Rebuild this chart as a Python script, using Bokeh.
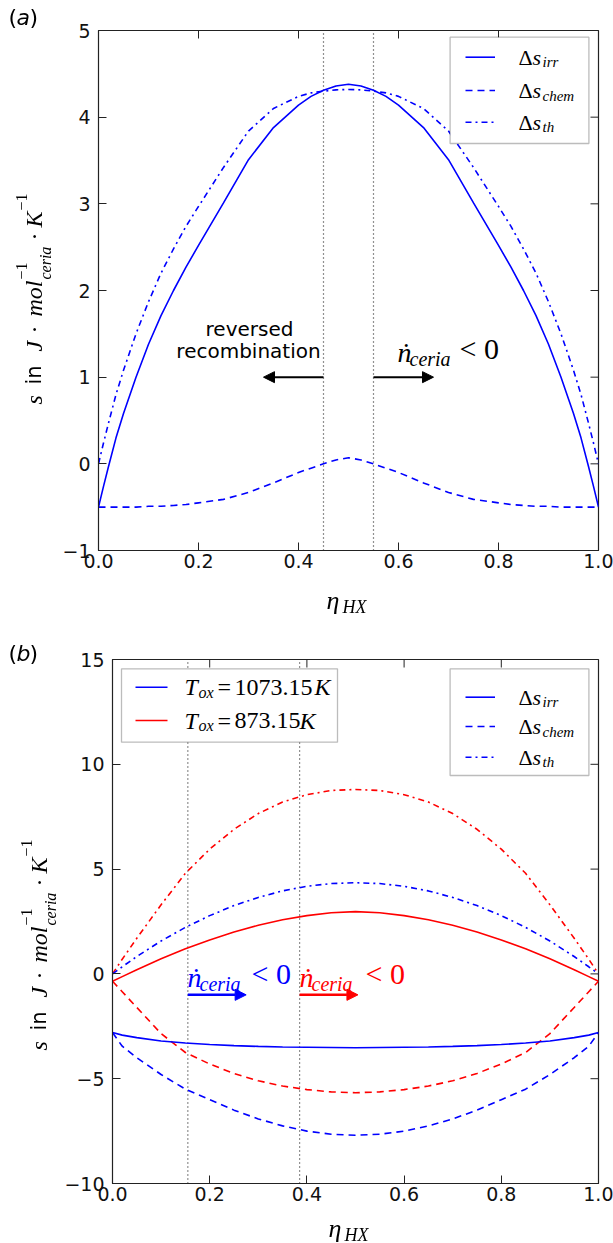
from math import pi
from bokeh.plotting import figure
from bokeh.models import Range1d, FixedTicker, Label, Arrow, NormalHead, BoxAnnotation
from bokeh.embed import file_html
from bokeh.resources import INLINE

# ---------------- data: panel (a) ----------------
x_a = [0, .01, .02, .035, .05, .075, .1, .125, .15, .175, .2, .25, .3, .35, .4, .425, .45, .475, .5,
       .525, .55, .575, .6, .65, .7, .75, .8, .825, .85, .875, .9, .925, .95, .965, .98, .99, 1.0]
irr_a = [-0.5, -0.26, -0.03, 0.3, 0.58, 1.0, 1.38, 1.71, 2.0, 2.27, 2.52, 3.01, 3.51, 3.88, 4.14, 4.24, 4.31, 4.36, 4.38,
         4.36, 4.31, 4.24, 4.14, 3.88, 3.51, 3.01, 2.52, 2.27, 2.0, 1.71, 1.38, 1.0, 0.58, 0.3, -0.03, -0.26, -0.5]
chem_a = [-0.5, -0.5, -0.5, -0.5, -0.5, -0.5, -0.49, -0.49, -0.48, -0.47, -0.45, -0.41, -0.33, -0.22, -0.1, -0.05, 0.0, 0.045, 0.07,
          0.045, 0.0, -0.05, -0.1, -0.22, -0.33, -0.41, -0.45, -0.47, -0.48, -0.49, -0.49, -0.5, -0.5, -0.5, -0.5, -0.5, -0.5]
th_a = [0.0, 0.24, 0.47, 0.8, 1.08, 1.5, 1.87, 2.2, 2.48, 2.74, 2.97, 3.42, 3.84, 4.1, 4.24, 4.28, 4.3, 4.315, 4.32,
        4.315, 4.3, 4.28, 4.24, 4.1, 3.84, 3.42, 2.97, 2.74, 2.48, 2.2, 1.87, 1.5, 1.08, 0.8, 0.47, 0.24, 0.0]
vlines_a = [0.45, 0.55]

# ---------------- data: panel (b) ----------------
x_b = [0, .02, .05, .1, .15, .2, .25, .3, .35, .4, .45, .5,
       .55, .6, .65, .7, .75, .8, .85, .9, .95, .98, 1.0]
blue_irr = [-2.8, -2.92, -3.04, -3.2, -3.3, -3.37, -3.42, -3.46, -3.49, -3.5, -3.51, -3.52,
            -3.51, -3.5, -3.49, -3.46, -3.42, -3.37, -3.3, -3.2, -3.04, -2.92, -2.8]
blue_chem = [-2.8, -3.45, -4.0, -4.8, -5.5, -6.0, -6.5, -6.92, -7.25, -7.5, -7.65, -7.7,
             -7.65, -7.5, -7.25, -6.92, -6.5, -6.0, -5.5, -4.8, -4.0, -3.45, -2.8]
blue_th = [0.0, 0.34, 0.83, 1.57, 2.22, 2.78, 3.26, 3.65, 3.96, 4.18, 4.31, 4.35,
           4.31, 4.18, 3.96, 3.65, 3.26, 2.78, 2.22, 1.57, 0.83, 0.34, 0.0]
red_irr = [-0.35, -0.13, 0.2, 0.72, 1.2, 1.62, 2.0, 2.32, 2.58, 2.78, 2.92, 2.97,
           2.92, 2.78, 2.58, 2.32, 2.0, 1.62, 1.2, 0.72, 0.2, -0.13, -0.35]
red_chem = [-0.35, -0.85, -1.6, -2.85, -3.75, -4.3, -4.75, -5.1, -5.35, -5.52, -5.63, -5.67,
            -5.63, -5.52, -5.35, -5.1, -4.75, -4.3, -3.75, -2.85, -1.6, -0.85, -0.35]
red_th = [0.0, 0.7, 1.7, 3.3, 4.8, 5.95, 6.9, 7.65, 8.2, 8.55, 8.75, 8.8,
          8.75, 8.55, 8.2, 7.65, 6.9, 5.95, 4.8, 3.3, 1.7, 0.7, 0.0]
vlines_b = [0.155, 0.385]

x_ticks = [0.0, 0.2, 0.4, 0.6, 0.8, 1.0]
x_tick_text = {0: "0.0", 1: "1.0"}
y_ticks_a = [-1, 0, 1, 2, 3, 4, 5]
y_ticks_b = [-10, -5, 0, 5, 10, 15]

BLUE = "#0000ff"
RED = "#ff0000"
SERIF = "Liberation Serif"
SANS = "DejaVu Sans"
DASH = "7 5"
DASHDOT = "6 4 2 4"
AXC = "#222222"
TICK = 8  # px, inward


def style_axis(ax, ticks, standoff, overrides=None):
    ax.ticker = FixedTicker(ticks=ticks)
    ax.major_tick_in = TICK
    ax.major_tick_out = 0
    ax.minor_tick_line_color = None
    ax.axis_line_color = AXC
    ax.major_tick_line_color = AXC
    ax.major_label_text_font = SANS
    ax.major_label_text_color = "#111111"
    ax.major_label_text_font_size = "19px"
    ax.major_label_standoff = standoff
    if overrides:
        ax.major_label_overrides = overrides


def make_fig(h, left, top, bottom, yr, yticks, overrides, fw, fh):
    p = figure(width=613, height=h, min_border_left=left, min_border_right=15,
               min_border_top=top, min_border_bottom=bottom,
               x_range=Range1d(0, 1), y_range=Range1d(*yr),
               output_backend="svg", toolbar_location=None)
    p.grid.grid_line_color = None
    p.outline_line_color = AXC
    p.outline_line_width = 1.2
    p.background_fill_color = "white"
    p.border_fill_color = "white"
    style_axis(p.xaxis[0], x_ticks, 3, x_tick_text)
    style_axis(p.yaxis[0], yticks, 8, overrides)
    # inward ticks on the top and right edges of the frame
    y0, y1 = yr
    dx = TICK * 1.0 / fw
    dy = TICK * (y1 - y0) / fh
    p.segment(x0=x_ticks, x1=x_ticks, y0=[y1] * len(x_ticks), y1=[y1 - dy] * len(x_ticks),
              line_color=AXC, line_width=1)
    p.segment(x0=[1.0] * len(yticks), x1=[1.0 - dx] * len(yticks), y0=yticks, y1=yticks,
              line_color=AXC, line_width=1)
    return p


def lab(p, X, Y, px, py, text, size, font=SERIF, style="normal", color="black",
        align="left", baseline="middle", angle=0.0, level="overlay"):
    p.add_layout(Label(x=X(px), y=Y(py), text=text, text_font=font,
                       text_font_size=f"{size}px", text_font_style=style,
                       text_color=color, text_align=align, text_baseline=baseline,
                       angle=angle, level=level))


def ds_legend(p, X, Y, top, bottom, rows, color):
    p.add_layout(BoxAnnotation(left=X(449.6), right=X(588.4), top=Y(top), bottom=Y(bottom),
                               fill_color="white", fill_alpha=1.0, line_color=AXC,
                               line_width=1.3, level="annotation"))
    subs = ["irr", "chem", "th"]
    dashes = ["solid", DASH, DASHDOT]
    for py, sub, dsh in zip(rows, subs, dashes):
        p.line([X(465), X(494.5)], [Y(py), Y(py)], line_color=color, line_width=1.6,
               line_dash=dsh, level="overlay")
        lab(p, X, Y, 518, py, "Δ", 22, SERIF, "normal")
        lab(p, X, Y, 532, py, "s", 22, SERIF, "italic")
        lab(p, X, Y, 542, py + 5, sub, 15, SERIF, "italic")


def ndot(p, X, Y, px, py, color, lt_dx):
    lab(p, X, Y, px, py, "ṅ", 28, SERIF, "italic", color)
    lab(p, X, Y, px + 12, py + 6, "ceria", 20, SERIF, "italic", color)
    lab(p, X, Y, px + lt_dx, py - 4, "< 0", 30, SERIF, "normal", color)


# ================= panel (a) =================
pa = make_fig(640, 98, 30, 90, (-1, 5), y_ticks_a, {-1: "−1"}, 500, 520)
Xa = lambda px: (px - 98) / 500.0
Ya = lambda py: 5 - (py - 30) / (520 / 6.0)

pa.segment(x0=vlines_a, y0=[-1] * len(vlines_a), x1=vlines_a, y1=[5] * len(vlines_a),
           line_color=AXC, line_dash="1 3", line_width=1.2)
pa.line(x_a, th_a, line_color=BLUE, line_width=1.6, line_dash=DASHDOT)
pa.line(x_a, chem_a, line_color=BLUE, line_width=1.6, line_dash=DASH)
pa.line(x_a, irr_a, line_color=BLUE, line_width=1.6)

pa.add_layout(Arrow(end=NormalHead(size=11, fill_color="black", line_color="black"),
                    x_start=0.45, y_start=1.0, x_end=0.33, y_end=1.0,
                    line_color="black", line_width=2))
pa.add_layout(Arrow(end=NormalHead(size=11, fill_color="black", line_color="black"),
                    x_start=0.55, y_start=1.0, x_end=0.67, y_end=1.0,
                    line_color="black", line_width=2))
lab(pa, Xa, Ya, 249, 328, "reversed", 20, SANS, "normal", align="center")
lab(pa, Xa, Ya, 248, 350, "recombination", 20, SANS, "normal", align="center")
ndot(pa, Xa, Ya, 397, 352, "black", 62)
ds_legend(pa, Xa, Ya, 36.7, 143, [56.7, 90, 121.7], BLUE)

# ================= panel (b) =================
pb = make_fig(603, 112, 19, 60, (-10, 15), y_ticks_b, {-10: "−10", -5: "−5"}, 486, 524)
Xb = lambda px: (px - 112) / 486.0
Yb = lambda py: 15 - (py - 659) / (524 / 25.0)

pb.segment(x0=vlines_b, y0=[-10] * len(vlines_b), x1=vlines_b, y1=[15] * len(vlines_b),
           line_color=AXC, line_dash="1 3", line_width=1.2)
pb.line(x_b, red_th, line_color=RED, line_width=1.6, line_dash=DASHDOT)
pb.line(x_b, red_chem, line_color=RED, line_width=1.6, line_dash=DASH)
pb.line(x_b, red_irr, line_color=RED, line_width=1.6)
pb.line(x_b, blue_th, line_color=BLUE, line_width=1.6, line_dash=DASHDOT)
pb.line(x_b, blue_chem, line_color=BLUE, line_width=1.6, line_dash=DASH)
pb.line(x_b, blue_irr, line_color=BLUE, line_width=1.6)

pb.add_layout(Arrow(end=NormalHead(size=11, fill_color=BLUE, line_color=BLUE),
                    x_start=0.155, y_start=-1.0, x_end=0.275, y_end=-1.0,
                    line_color=BLUE, line_width=2.5))
pb.add_layout(Arrow(end=NormalHead(size=11, fill_color=RED, line_color=RED),
                    x_start=0.385, y_start=-1.0, x_end=0.505, y_end=-1.0,
                    line_color=RED, line_width=2.5))
ndot(pb, Xb, Yb, 187, 977, BLUE, 64)
ndot(pb, Xb, Yb, 299, 977, RED, 66)

pb.add_layout(BoxAnnotation(left=Xb(121), right=Xb(337), top=Yb(668.3), bottom=Yb(741.7),
                            fill_color="white", fill_alpha=1.0, line_color=AXC,
                            line_width=1.3, level="annotation"))
for py, col, num, kx in [(686.7, BLUE, "1073.15", 314), (720, RED, "873.15", 299)]:
    pb.line([Xb(135), Xb(167)], [Yb(py), Yb(py)], line_color=col, line_width=1.6, level="overlay")
    lab(pb, Xb, Yb, 184, py, "T", 24, SERIF, "italic")
    lab(pb, Xb, Yb, 198, py + 5, "ox", 16, SERIF, "italic")
    lab(pb, Xb, Yb, 217, py, "=", 24, SERIF, "normal")
    lab(pb, Xb, Yb, 234, py, num, 24, SERIF, "normal")
    lab(pb, Xb, Yb, kx, py, "K", 24, SERIF, "italic")
ds_legend(pb, Xb, Yb, 668.3, 775, [696.7, 726, 756.7], BLUE)

# ====== transparent overlay (page pixel coordinates) for the axis titles and panel tags ======
ov = figure(width=613, height=1243, x_range=Range1d(0, 613), y_range=Range1d(1243, 0),
            min_border=0, x_axis_type=None, y_axis_type=None,
            output_backend="svg", toolbar_location=None,
            styles={"position": "fixed", "left": "0px", "top": "0px",
                    "pointer-events": "none", "z-index": "5"})
ov.grid.visible = False
ov.outline_line_color = None
ov.background_fill_color = None
ov.border_fill_color = None
IDX = lambda v: v


def olab(px, py, text, size, font=SERIF, style="normal", angle=0.0):
    lab(ov, IDX, IDX, px, py, text, size, font, style, angle=angle, level="annotation")


def ylabel(xc, dy):
    xs, xb = xc - 12, xc + 12
    r = pi / 2
    olab(xc, 404 + dy, "s", 24, SERIF, "italic", r)
    olab(xc, 384 + dy, "in", 21, SANS, "normal", r)
    olab(xc, 351 + dy, "J", 24, SERIF, "italic", r)
    olab(xc, 333 + dy, "·", 24, SERIF, "normal", r)
    olab(xc, 316 + dy, "mol", 24, SERIF, "italic", r)
    olab(xs, 279 + dy, "−1", 16, SERIF, "normal", r)
    olab(xb, 279 + dy, "ceria", 16, SERIF, "italic", r)
    olab(xc, 240 + dy, "·", 24, SERIF, "normal", r)
    olab(xc, 227 + dy, "K", 24, SERIF, "italic", r)
    olab(xs, 210 + dy, "−1", 16, SERIF, "normal", r)


def xlabel(px, py):
    olab(px, py, "η", 26, SERIF, "italic")
    olab(px + 16, py + 6, "HX", 18, SERIF, "italic")


def tag(py, letter):
    olab(8, py, "(", 22, SANS, "normal")
    olab(16, py, letter, 22, SANS, "italic")
    olab(29, py, ")", 22, SANS, "normal")


tag(17, "a")
ylabel(33, 0)
xlabel(326, 600)
tag(653, "b")
ylabel(38, 646)
xlabel(328, 1228)

open("out.html", "w").write(file_html([pa, pb, ov], INLINE))
